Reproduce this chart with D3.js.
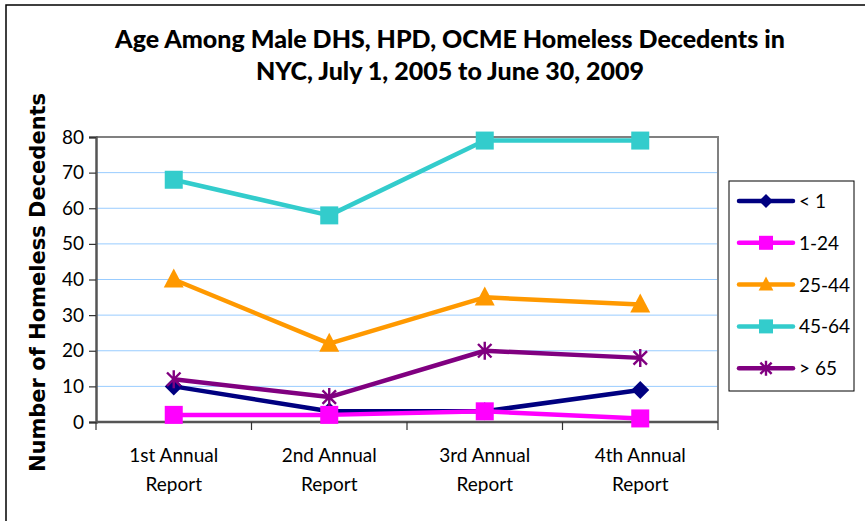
<!DOCTYPE html>
<html><head><meta charset="utf-8">
<script src="https://d3js.org/d3.v7.min.js"></script>
<style>body{margin:0;background:#fff}svg{display:block}</style>
</head><body><div id="c"></div>
<script>
const categories = [["1st Annual","Report"],["2nd Annual","Report"],["3rd Annual","Report"],["4th Annual","Report"]];
const seriesNames = ["< 1","1-24","25-44","45-64","> 65"];
const valuesLt1 = [10,3,3,9];
const values1_24 = [2,2,3,1];
const values25_44 = [40,22,35,33];
const values45_64 = [68,58,79,79];
const valuesGt65 = [12,7,20,18];
const yTicks = [0,10,20,30,40,50,60,70,80];
const titleLines = ["Age Among Male DHS, HPD, OCME Homeless Decedents in","NYC, July 1, 2005 to June 30, 2009"];
const yLabel = "Number of Homeless Decedents";

const series = [
  {name:seriesNames[0], values:valuesLt1, color:"#000080", marker:"diamond"},
  {name:seriesNames[1], values:values1_24, color:"#FF00FF", marker:"square"},
  {name:seriesNames[2], values:values25_44, color:"#FF9900", marker:"triangle"},
  {name:seriesNames[3], values:values45_64, color:"#33CCCC", marker:"square"},
  {name:seriesNames[4], values:valuesGt65, color:"#800080", marker:"star"}
];

const W=865,H=521;
const svg=d3.select("#c").append("svg").attr("width",W).attr("height",H);
svg.append("rect").attr("x",6).attr("y",5).attr("width",W+20).attr("height",H+20)
  .attr("fill","none").attr("stroke","#000").attr("stroke-width",1.5);

const L=96,R=718,T=137,B=422;
const x=d3.scaleBand().domain(categories.map((c,i)=>i)).range([L,R]).padding(0);
const y=d3.scaleLinear().domain([0,80]).range([B,T]);

svg.append("g").selectAll("line").data(yTicks.filter(t=>t>0&&t<80)).join("line")
  .attr("x1",L).attr("x2",R).attr("y1",d=>y(d)).attr("y2",d=>y(d))
  .attr("stroke","#99CCFF").attr("stroke-width",1);
svg.append("path").attr("d",`M${L},${T}H${R}V${B}`).attr("fill","none").attr("stroke","#808080").attr("stroke-width",2);

const ya=svg.append("g").attr("transform",`translate(${L},0)`)
  .call(d3.axisLeft(y).tickValues(yTicks).tickSize(7).tickPadding(5));
ya.select(".domain").attr("stroke","#555").attr("stroke-width",2.5);
ya.selectAll(".tick line").attr("stroke","#333").attr("stroke-width",1.2);
ya.selectAll("text").attr("font-family","Lato").attr("font-size",19).attr("fill","#000");

const xa=svg.append("g").attr("transform",`translate(0,${B})`);
xa.append("line").attr("x1",L).attr("x2",R).attr("stroke","#555").attr("stroke-width",2.5);
const bounds=categories.map((c,i)=>x(i)).concat([R]);
xa.selectAll(".tk").data(bounds).join("line").attr("class","tk")
  .attr("x1",d=>d).attr("x2",d=>d).attr("y1",0).attr("y2",8).attr("stroke","#333").attr("stroke-width",1.2);
const xl=xa.selectAll(".lbl").data(categories).join("text").attr("class","lbl")
  .attr("font-family","Lato").attr("font-size",19).attr("text-anchor","middle");
xl.each(function(d,i){
  const t=d3.select(this);
  d.forEach((s,j)=>t.append("tspan").attr("x",x(i)+x.bandwidth()/2).attr("y",40+j*29).text(s));
});

svg.append("g").selectAll("text").data(titleLines).join("text")
  .attr("x",450).attr("y",(d,i)=>48+i*32).attr("text-anchor","middle")
  .attr("font-family","Lato").attr("font-weight","900").attr("font-size",25).text(d=>d);

svg.append("text").attr("transform",`translate(45,${(95+470)/2}) rotate(-90)`)
  .attr("text-anchor","middle").attr("font-family","DejaVu Sans").attr("font-weight","bold")
  .attr("font-size",21).text(yLabel);

function drawMarker(g,type,cx,cy,color,s){
  if(type==="diamond"){
    g.append("path").attr("d",`M${cx},${cy-s}L${cx+s},${cy}L${cx},${cy+s}L${cx-s},${cy}Z`).attr("fill",color);
  } else if(type==="square"){
    g.append("rect").attr("x",cx-s).attr("y",cy-s).attr("width",2*s).attr("height",2*s).attr("fill",color);
  } else if(type==="triangle"){
    g.append("path").attr("d",`M${cx},${cy-s*1.15}L${cx+s*1.05},${cy+s*0.85}L${cx-s*1.05},${cy+s*0.85}Z`).attr("fill",color);
  } else {
    const d=s*0.75;
    g.append("path").attr("d",`M${cx},${cy-s}V${cy+s}M${cx-d},${cy-d}L${cx+d},${cy+d}M${cx+d},${cy-d}L${cx-d},${cy+d}`)
      .attr("stroke",color).attr("stroke-width",2.4).attr("fill","none");
  }
}

const line=d3.line().x((d,i)=>x(i)+x.bandwidth()/2).y(d=>y(d));
series.forEach(s=>{
  const g=svg.append("g");
  g.append("path").attr("d",line(s.values)).attr("fill","none").attr("stroke",s.color)
    .attr("stroke-width",4.5).attr("stroke-linejoin","round");
  s.values.forEach((v,i)=>drawMarker(g,s.marker,x(i)+x.bandwidth()/2,y(v),s.color,s.marker==="triangle"?9.5:9));
});

const lg=svg.append("g");
lg.append("rect").attr("x",729).attr("y",181).attr("width",125).attr("height",210)
  .attr("fill","#fff").attr("stroke","#000").attr("stroke-width",1);
series.forEach((s,i)=>{
  const cy=201+i*41.8;
  lg.append("line").attr("x1",739).attr("x2",793).attr("y1",cy).attr("y2",cy)
    .attr("stroke",s.color).attr("stroke-width",4.5).attr("stroke-linecap","round");
  drawMarker(lg,s.marker,766,cy,s.color,s.marker==="star"?7.5:7);
  lg.append("text").attr("x",799).attr("y",cy+7).attr("font-family","Lato").attr("font-size",19).text(s.name);
});
</script></body></html>
